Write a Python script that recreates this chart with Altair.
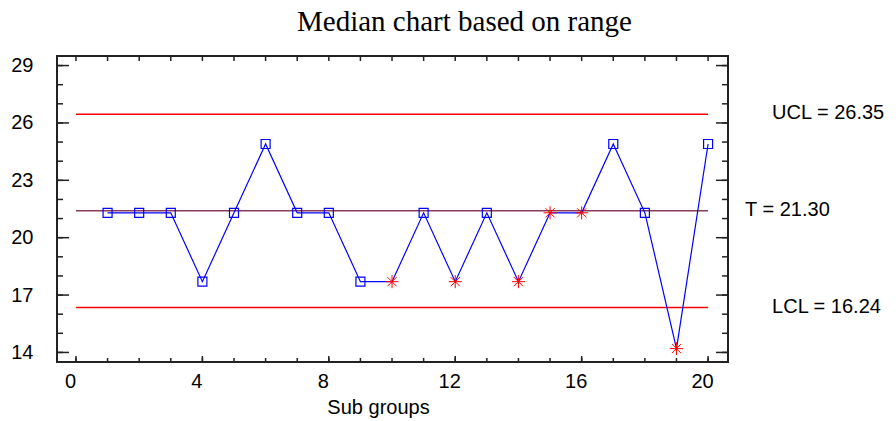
import altair as alt
import pandas as pd

# ---- data ----
subgroups = list(range(1, 21))
medians = [21.3, 21.3, 21.3, 17.7, 21.3, 24.9, 21.3, 21.3, 17.7, 17.7,
           21.3, 17.7, 21.3, 17.7, 21.3, 21.3, 24.9, 21.3, 14.2, 24.9]
flagged = [False, False, False, False, False, False, False, False, False, True,
           False, True, False, True, True, True, False, False, True, False]

limit_names = ["UCL", "T", "LCL"]
limit_values = [26.35, 21.30, 16.24]
limit_colors = ["#ff0000", "#8a3c5c", "#ff0000"]

x_label_values = [0, 4, 8, 12, 16, 20]
y_label_values = [14, 17, 20, 23, 26, 29]

# ---- tables ----
pts = pd.DataFrame({"subgroup": subgroups, "median": medians, "flag": flagged})
lim = pd.DataFrame({
    "name": limit_names,
    "value": limit_values,
    "x0": [0] * 3,
    "x1": [len(subgroups)] * 3,
    "label": [f"{n} = {v:.2f}" for n, v in zip(limit_names, limit_values)],
})
x_minor = pd.DataFrame({"v": list(range(0, len(subgroups) + 1))})
x_major = pd.DataFrame({"v": x_label_values})
y_minor = pd.DataFrame({"v": list(range(y_label_values[0], y_label_values[-1] + 1))})
y_major = pd.DataFrame({"v": y_label_values})

W, H = 671, 306
FONT = "Liberation Sans"
x_scale = alt.Scale(domain=[-0.6, 20.63], nice=False, zero=False)
y_scale = alt.Scale(domain=[13.5, 29.5], nice=False, zero=False)

x_axis = alt.Axis(values=x_label_values, title="Sub groups", ticks=False, tickSize=0,
                  domain=False, grid=False, labelFont=FONT, labelFontSize=20,
                  labelColor="black", labelPadding=9, labelOffset=-6,
                  titleFont=FONT, titleFontSize=20, titleFontWeight="normal",
                  titleColor="black", titlePadding=6, titleX=321)
y_axis = alt.Axis(values=y_label_values, title=None, ticks=False, tickSize=0,
                  domain=False, grid=False, labelFont=FONT, labelFontSize=20,
                  labelColor="black", labelPadding=24)


def X(field):
    return alt.X(field, scale=x_scale, axis=x_axis, title="Sub groups")


def Y(field):
    return alt.Y(field, scale=y_scale, axis=y_axis, title=None)


limit_layers = []
label_layers = []
for name, col, dx in zip(limit_names, limit_colors, [64, 37, 64]):
    limit_layers.append(
        alt.Chart(lim).transform_filter(alt.datum.name == name)
        .mark_rule(strokeWidth=1.5, color=col, yOffset=-2)
        .encode(x=X("x0:Q"), x2="x1:Q", y=Y("value:Q"))
    )
    label_layers.append(
        alt.Chart(lim).transform_filter(alt.datum.name == name).mark_text(
            align="left", baseline="middle", dx=dx, dy=-3, font=FONT, fontSize=20, color="black"
        ).encode(x=X("x1:Q"), y=Y("value:Q"), text="label:N")
    )

line = alt.Chart(pts).mark_line(color="#0000ff", strokeWidth=1.2).encode(
    x=X("subgroup:Q"),
    y=Y("median:Q"),
    order="subgroup:Q",
)

squares = alt.Chart(pts).transform_filter("!datum.flag").mark_point(
    shape="square", size=81, filled=False, color="#0000ff", strokeWidth=1.2, opacity=1
).encode(x=X("subgroup:Q"), y=Y("median:Q"))

asterisk = "M-1,0L1,0M0,-1L0,1M-0.7,-0.7L0.7,0.7M-0.7,0.7L0.7,-0.7"
stars = alt.Chart(pts).transform_filter("datum.flag").mark_point(
    shape=asterisk, size=170, filled=False, color="#ff0000", strokeWidth=1.0, opacity=1
).encode(x=X("subgroup:Q"), y=Y("median:Q"))

TICK = "#222222"


def yticks(df, length):
    left = alt.Chart(df).mark_rule(color=TICK, strokeWidth=1.5).encode(
        y=Y("v:Q"), x=alt.value(0), x2=alt.value(length))
    right = alt.Chart(df).mark_rule(color=TICK, strokeWidth=1.5).encode(
        y=Y("v:Q"), x=alt.value(W), x2=alt.value(W - length))
    return [left, right]


def xticks(df, bottom_len, top_len):
    out = [alt.Chart(df).mark_rule(color=TICK, strokeWidth=1.5).encode(
        x=X("v:Q"), y=alt.value(H), y2=alt.value(H - bottom_len))]
    if top_len:
        out.append(alt.Chart(df).mark_rule(color=TICK, strokeWidth=1.5).encode(
            x=X("v:Q"), y=alt.value(0), y2=alt.value(top_len)))
    return out


tick_layers = (yticks(y_minor, 6) + yticks(y_major, 12)
               + xticks(x_minor, 4, 5) + xticks(x_major, 6, 0))

chart = alt.layer(
    *limit_layers, line, squares, stars, *label_layers, *tick_layers
).properties(
    width=W,
    height=H,
    background="white",
    title=alt.TitleParams(
        "Median chart based on range", font="Liberation Serif", fontSize=29,
        fontWeight="normal", color="black", anchor="middle", dx=72, offset=18,
        frame="group",
    ),
    autosize=alt.AutoSizeParams(type="none"),
    padding={"left": 49, "top": 48, "right": 160, "bottom": 58},
).configure_view(
    stroke="#222222", strokeWidth=2
)

chart.save("out.html", embed_options={"renderer": "svg", "actions": False})
